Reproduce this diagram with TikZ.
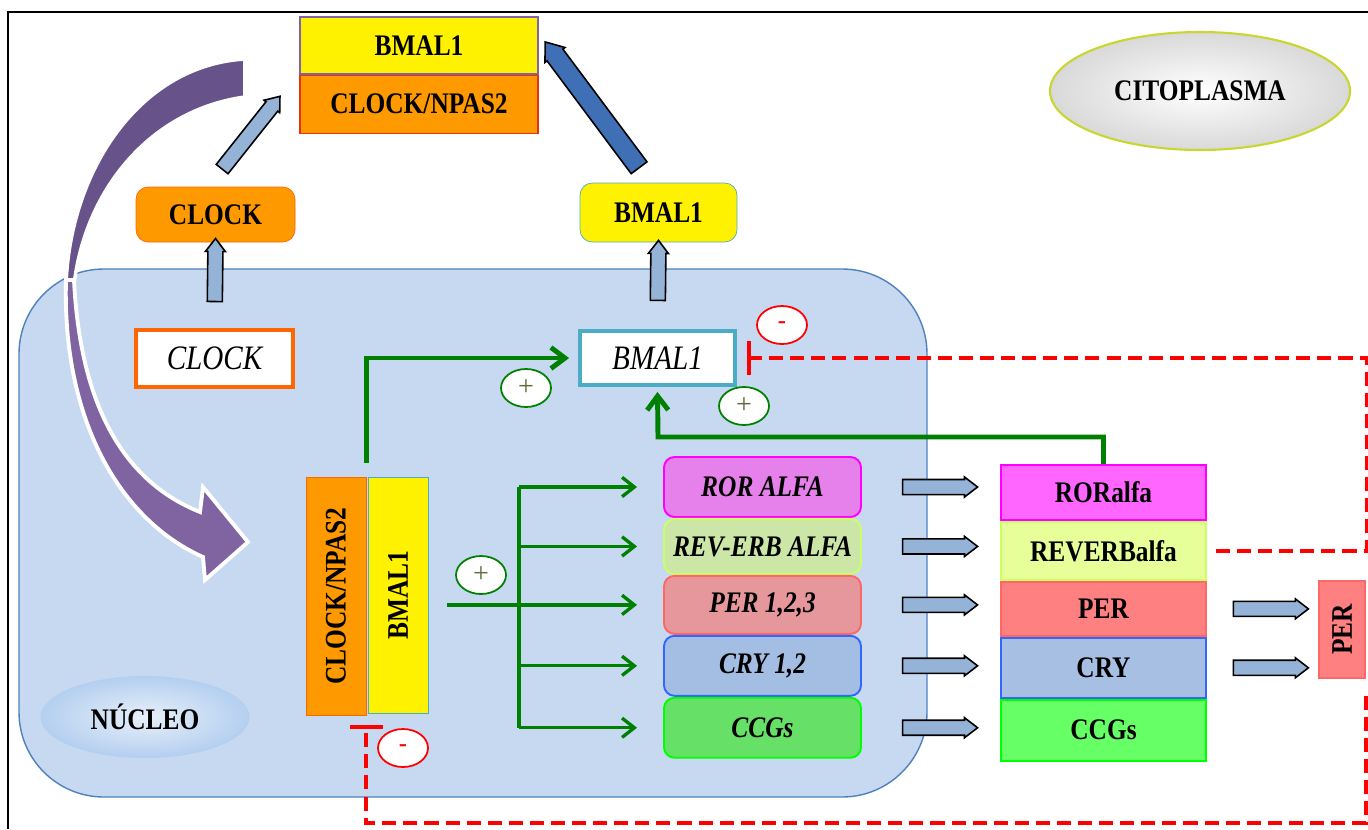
\documentclass[tikz,border=0pt]{standalone}
\usepackage{fontspec}
\setmainfont{Liberation Serif}
\newfontfamily\narrowserif{Liberation Serif}[FakeStretch=0.85]
\usetikzlibrary{arrows.meta,positioning,shapes.geometric,shapes.arrows}
\newlength\pxu
\setlength\pxu{0.02cm}
\definecolor{nucfill}{HTML}{C6D9F1}
\definecolor{nucline}{HTML}{4F81BD}
\definecolor{nucoval}{HTML}{B4CFF0}
\definecolor{arrblue}{HTML}{95B3D7}
\definecolor{darkarr}{HTML}{3F6FB5}
\definecolor{orangebox}{HTML}{FF9900}
\definecolor{orangeline}{HTML}{FF6600}
\definecolor{cyanline}{HTML}{4BACC6}
\definecolor{actgreen}{HTML}{008000}
\definecolor{pluscol}{HTML}{5F6B3A}
\definecolor{purpdark}{HTML}{67528A}
\definecolor{purplight}{HTML}{8064A2}
\definecolor{rorline}{HTML}{FF00FF}
\definecolor{rorgfill}{HTML}{E680EA}
\definecolor{rorpfill}{HTML}{FF66FF}
\definecolor{revline}{HTML}{CCFF66}
\definecolor{revgfill}{HTML}{CCE6A8}
\definecolor{revpfill}{HTML}{E6FF99}
\definecolor{perline}{HTML}{FF6666}
\definecolor{pergfill}{HTML}{E6979C}
\definecolor{perpfill}{HTML}{FF8080}
\definecolor{cryline}{HTML}{3366FF}
\definecolor{crygfill}{HTML}{A4BEE3}
\definecolor{crypfill}{HTML}{A6BFE3}
\definecolor{ccgline}{HTML}{00FF00}
\definecolor{ccggfill}{HTML}{66E066}
\definecolor{ccgpfill}{HTML}{66FF66}
\definecolor{citoline}{HTML}{C8D62E}

\begin{document}
\begin{tikzpicture}[x=0.02cm,y=-0.02cm,
    bfont/.style={font=\narrowserif\bfseries\fontsize{17}{19}\selectfont},
    prot/.style={bfont,inner sep=0pt},
    gene/.style={draw=#1,line width=2.2pt,fill=white,inner sep=0pt,
                 font=\narrowserif\itshape\fontsize{19.5}{22}\selectfont},
    gbox/.style={draw=#1,line width=1.1pt,rounded corners=6pt,
                 minimum width=197\pxu,inner sep=0pt,
                 font=\narrowserif\bfseries\itshape\fontsize{17}{19}\selectfont},
    pbox/.style={draw=#1,line width=1.1pt,minimum width=205\pxu,
                 inner sep=0pt,bfont},
    sign/.style={ellipse,draw=#1,fill=white,line width=1pt,inner sep=0pt,
                 minimum width=50\pxu,minimum height=38\pxu},
    barrow/.style={single arrow,draw=black,fill=arrblue,line width=0.9pt,
                   inner xsep=0pt,inner ysep=2.6pt,minimum width=20\pxu,
                   single arrow head extend=1pt,single arrow tip angle=75,
                   sloped,allow upside down},
    darrow/.style={barrow,fill=darkarr,inner ysep=3.3pt,minimum width=25\pxu},
    gact/.style={draw=actgreen,line width=2.8pt,
                 -{Straight Barb[length=8pt,width=12pt]}},
    gbr/.style={draw=actgreen,line width=1.9pt},
    gbra/.style={gbr,-{Straight Barb[length=7pt,width=11pt]}},
    inh/.style={draw=red,line width=2.2pt,dash pattern=on 8pt off 4pt,
                -{Bar[width=19pt,line width=2.2pt]}}]

  \useasboundingbox (0,0) rectangle (1368,829);
  \draw[line width=1.7pt] (8,829) -- (8,12) -- (1368,12);

  \draw[fill=nucfill,draw=nucline,line width=0.8pt,rounded corners=1.7cm]
    (19,269) rectangle (927,797);

  \fill[purpdark,draw=white,line width=2pt]
    (245,59) .. controls (140,65) and (70,170) .. (66,285) --
    (74,285) .. controls (85,190) and (150,110) .. (245,97) -- cycle;
  \fill[purplight,draw=white,line width=2.2pt]
    (66,280) .. controls (62,420) and (120,520) .. (203,557) --
    (205,580) -- (248,542) -- (203,487) -- (200,512)
    .. controls (120,480) and (80,400) .. (74,280) -- cycle;

  \node[prot,draw=purplight,line width=0.6pt,fill=yellow,
        minimum width=238\pxu,minimum height=57\pxu] (topb) at (419,45.5) {BMAL1};
  \node[prot,draw=red!60!brown,line width=0.6pt,fill=orangebox,
        minimum width=238\pxu,minimum height=58\pxu] (topc) [below=0pt of topb] {CLOCK/NPAS2};

  \node[prot,draw=orangeline,fill=orangebox,rounded corners=7pt,
        minimum width=159\pxu,minimum height=55\pxu] (clockp) at (215.5,214.5) {CLOCK};
  \node[prot,draw=cyanline,fill=yellow,rounded corners=7pt,
        minimum width=157\pxu,minimum height=59\pxu] (bmalp) at (658.5,212.5) {BMAL1};

  \node[gene=orangeline,minimum width=157\pxu,minimum height=57\pxu] (clockg) at (214.5,358.5) {CLOCK};
  \node[gene=cyanline,minimum width=155\pxu,minimum height=54\pxu] (bmalg) at (657.5,358) {BMAL1};

  \node[prot,draw=orangeline,fill=orangebox,rotate=90,
        minimum width=238\pxu,minimum height=60\pxu] (clkv) at (336,596) {CLOCK/NPAS2};
  \node[prot,draw=cyanline,fill=yellow,rotate=90,
        minimum width=236\pxu,minimum height=60\pxu] (bmv) at (398,595) {BMAL1};

  \node[gbox=rorline,fill=rorgfill,minimum height=60\pxu] (rorg) at (762.5,487) {ROR ALFA};
  \node[gbox=revline,fill=revgfill,minimum height=55\pxu] (revg) [below=0pt of rorg] {REV-ERB ALFA};
  \node[gbox=perline,fill=pergfill,minimum height=58\pxu] (perg) [below=0pt of revg] {PER 1,2,3};
  \node[gbox=cryline,fill=crygfill,minimum height=60\pxu] (cryg) [below=0pt of perg] {CRY 1,2};
  \node[gbox=ccgline,fill=ccggfill,minimum height=60\pxu] (ccgg) [below=0pt of cryg] {CCGs};

  \node[pbox=rorline,fill=rorpfill,minimum height=55\pxu] (rorp) at (1103.5,492.5) {RORalfa};
  \node[pbox=revline,fill=revpfill,minimum height=58\pxu] (revp) [below=0pt of rorp] {REVERBalfa};
  \node[pbox=perline,fill=perpfill,minimum height=54\pxu] (perp) [below=0pt of revp] {PER};
  \node[pbox=cryline,fill=crypfill,minimum height=60\pxu] (cryp) [below=0pt of perp] {CRY};
  \node[pbox=ccgline,fill=ccgpfill,minimum height=61\pxu] (ccgp) [below=0pt of cryp] {CCGs};

  \node[prot,draw=perline,fill=perpfill,rotate=90,line width=0.8pt,
        minimum width=97\pxu,minimum height=46\pxu] (perv) at (1342,629.5) {PER};

  \node[ellipse,draw=citoline,line width=1.2pt,inner color=white,outer color=gray!30,
        minimum width=300\pxu,minimum height=118\pxu,bfont] (cito) at (1200,91) {CITOPLASMA};
  \node[ellipse,draw=nucoval,line width=0.5pt,inner color=white!60!nucfill,
        outer color=nucoval,minimum width=208\pxu,minimum height=81\pxu,bfont]
        (nucl) at (145,717) {NÚCLEO};

  \node[sign=actgreen,text=pluscol,font=\fontsize{16}{16}\selectfont] (plus1) at (526,388) {+};
  \node[sign=actgreen,text=pluscol,font=\fontsize{16}{16}\selectfont] (plus2) at (744,406) {+};
  \node[sign=actgreen,text=pluscol,font=\fontsize{16}{16}\selectfont] (plus3) at (481,575) {+};
  \node[sign=red,text=red,font=\bfseries\fontsize{14}{14}\selectfont] (minus1) at (782,325) {-};
  \node[sign=red,text=red,font=\bfseries\fontsize{14}{14}\selectfont] (minus2) at (403,748) {-};

  \coordinate (d1) at (219,173);
  \coordinate (d2) at (277,100);
  \coordinate (e1) at (643,173);
  \coordinate (e2) at (549,47);
  \path (d1) -- node[barrow,minimum height=93\pxu] {} (d2);
  \path (e1) -- node[darrow,minimum height=157\pxu] {} (e2);
  \path (clockg.north) -- node[barrow,pos=0.62,minimum height=63\pxu] {} (clockp.south);
  \path (bmalg.north) -- node[barrow,pos=0.62,minimum height=60\pxu] {} (bmalp.south);

  \path (rorg.east) -- node[barrow,pos=0.53,minimum height=75\pxu] {} (rorg.east -| rorp.west);
  \path (revg.east) -- node[barrow,pos=0.53,minimum height=75\pxu] {} (revg.east -| revp.west);
  \path (perg.east) -- node[barrow,pos=0.53,minimum height=75\pxu] {} (perg.east -| perp.west);
  \path (cryg.east) -- node[barrow,pos=0.53,minimum height=75\pxu] {} (cryg.east -| cryp.west);
  \path (ccgg.east) -- node[barrow,pos=0.53,minimum height=75\pxu] {} (ccgg.east -| ccgp.west);
  \path (perp.east) -- node[barrow,pos=0.53,minimum height=75\pxu] {} (perp.east -| perv.north);
  \path (cryp.east) -- node[barrow,pos=0.53,minimum height=75\pxu] {} (cryp.east -| perv.north);

  \draw[gact] ([yshift=0.28cm]clkv.south east) |- ([xshift=-0.18cm]bmalg.west);
  \coordinate (gk) at (658,437);
  \draw[gact] (rorp.north) -- (rorp.north |- gk) -- (gk) -- ([yshift=-0.1cm]bmalg.south);

  \coordinate (tk) at (519,0);
  \coordinate (hs) at (447,601);
  \draw[gbr] (tk |- rorg.west) -- (tk |- ccgg.west);
  \draw[gbra] (hs |- perg.west) -- ([xshift=-0.52cm]perg.west);
  \draw[gbra] (tk |- rorg.west) -- ([xshift=-0.52cm]rorg.west);
  \draw[gbra] (tk |- revg.west) -- ([xshift=-0.52cm]revg.west);
  \draw[gbra] (tk |- cryg.west) -- ([xshift=-0.52cm]cryg.west);
  \draw[gbra] (tk |- ccgg.west) -- ([xshift=-0.52cm]ccgg.west);

  \draw[inh] ([xshift=0.18cm]revp.east) -- ++(151,0) |- ([xshift=0.2cm]bmalg.east);
  \draw[inh] ([yshift=-0.34cm]perv.south west) -- ++(0,127) -| ([yshift=-0.2cm]clkv.south west);

\end{tikzpicture}
\end{document}
